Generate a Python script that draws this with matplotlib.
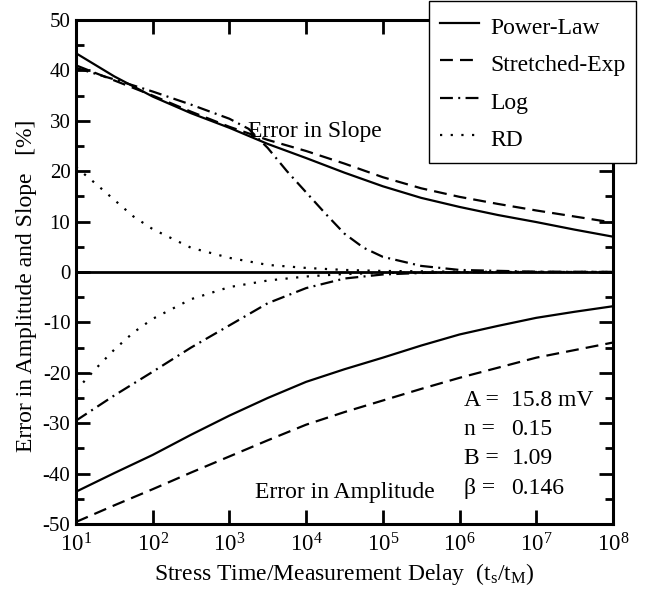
import numpy as np
import matplotlib
matplotlib.use("Agg")
import matplotlib.pyplot as plt
from matplotlib.ticker import FixedLocator, NullLocator, LogFormatterSciNotation

plt.rcParams['font.family'] = ['Liberation Serif', 'DejaVu Serif']
plt.rcParams['mathtext.fontset'] = 'custom'
plt.rcParams['mathtext.rm'] = 'Liberation Serif'
plt.rcParams['mathtext.it'] = 'Liberation Serif:italic'
plt.rcParams['axes.unicode_minus'] = False

# stress time / measurement delay (half decades)
t_half = [1e1, 3.16e1, 1e2, 3.16e2, 1e3, 3.16e3, 1e4, 3.16e4, 1e5, 3.16e5,
          1e6, 3.16e6, 1e7, 3.16e7, 1e8]
x_ticks = [1e1, 1e2, 1e3, 1e4, 1e5, 1e6, 1e7, 1e8]

# error in slope [%]
pl_slope = [43.4, 38.8, 34.8, 31.5, 28.6, 25.4, 22.6, 19.7, 17.0, 14.7, 12.9, 11.3, 9.9, 8.4, 7.0]
se_slope = [41.0, 38.0, 35.0, 31.8, 28.8, 26.2, 24.0, 21.5, 18.8, 16.6, 14.9, 13.5, 12.2, 11.0, 9.8]
t_log_slope = [1e1, 3.16e1, 1e2, 3.16e2, 1e3, 1.78e3, 3.16e3, 5.62e3, 1e4, 1.78e4,
               3.16e4, 5.62e4, 1e5, 3.16e5, 1e6, 1e7, 1e8]
log_slope = [40.5, 38.2, 35.8, 33.2, 30.4, 28.4, 24.6, 20.0, 15.8, 11.6,
             7.6, 4.8, 3.0, 1.2, 0.4, 0.05, 0.0]
t_rd = [1e1, 1.78e1, 3.16e1, 5.62e1, 1e2, 3.16e2, 1e3, 3.16e3, 1e4, 3.16e4,
        1e5, 1e6, 1e7, 1e8]
rd_slope = [20.8, 17.6, 14.3, 11.0, 8.5, 4.8, 2.8, 1.4, 0.8, 0.4, 0.2, 0.05, 0.0, 0.0]

# error in amplitude [%]
pl_amp = [-43.6, -39.9, -36.3, -32.3, -28.5, -25.0, -21.8, -19.3, -17.0, -14.6,
          -12.4, -10.7, -9.1, -7.9, -6.8]
se_amp = [-49.6, -46.3, -43.1, -39.8, -36.6, -33.4, -30.3, -27.8, -25.5, -23.2,
          -21.0, -19.0, -17.0, -15.5, -14.0]
t_log_amp = [1e1, 3.16e1, 1e2, 3.16e2, 1e3, 3.16e3, 1e4, 3.16e4, 1e5, 3.16e5,
             1e6, 1e7, 1e8]
log_amp = [-29.5, -24.5, -19.8, -15.0, -10.6, -6.2, -3.2, -1.3, -0.5, -0.2, -0.05, 0.0, 0.0]
rd_amp = [-23.5, -19.3, -15.4, -12.0, -9.3, -5.4, -3.0, -1.7, -0.9, -0.4, -0.2, -0.05, 0.0, 0.0]

params = ["A =", "n =", "B =", "\u03b2 ="]
param_vals = ["15.8 mV", "0.15", "1.09", "0.146"]

fs = 17
lw = 1.6
solid = '-'
dashed = (0, (5.8, 3.2))
dashdot = (0, (5.8, 2.4, 0.9, 2.4))
dotted = (0, (1.0, 3.8))

fig = plt.figure(figsize=(6.46, 5.92), dpi=100)
ax = fig.add_axes([0.1176, 0.1149, 0.8313, 0.8514])

ax.axhline(0, color='black', lw=2.0, zorder=1)

ax.plot(t_half, pl_slope, color='black', lw=lw, ls=solid, label='Power-Law')
ax.plot(t_half, se_slope, color='black', lw=lw, ls=dashed, label='Stretched-Exp')
ax.plot(t_log_slope, log_slope, color='black', lw=lw, ls=dashdot, label='Log')
ax.plot(t_rd, rd_slope, color='black', lw=lw, ls=dotted, label='RD')

ax.plot(t_half, pl_amp, color='black', lw=lw, ls=solid)
ax.plot(t_half, se_amp, color='black', lw=lw, ls=dashed)
ax.plot(t_log_amp, log_amp, color='black', lw=lw, ls=dashdot)
ax.plot(t_rd, rd_amp, color='black', lw=lw, ls=dotted)

ax.set_xscale('log')
ax.set_xlim(1e1, 1e8)
ax.set_ylim(-50, 50)
ax.xaxis.set_major_locator(FixedLocator(x_ticks))
ax.xaxis.set_major_formatter(LogFormatterSciNotation())
ax.xaxis.set_minor_locator(NullLocator())
ax.yaxis.set_major_locator(FixedLocator(np.arange(-50, 51, 10)))
ax.yaxis.set_minor_locator(FixedLocator(np.arange(-45, 50, 10)))

for s in ax.spines.values():
    s.set_linewidth(2.2)
ax.tick_params(which='both', direction='in', top=True, right=True, width=2.0)
ax.tick_params(axis='y', pad=4, labelsize=15)
ax.tick_params(axis='x', pad=7, labelsize=16.5)
ax.tick_params(which='major', length=10)
ax.tick_params(which='minor', length=6)

ax.set_xlabel('Stress Time/Measurement Delay  (t$_\\mathregular{s}$/t$_\\mathregular{M}$)',
              fontsize=fs, labelpad=3)
ax.set_ylabel('Error in Amplitude and Slope   [%]', fontsize=fs)
ax.yaxis.set_label_coords(-0.073, 0.472)

ax.text(0.445, 0.779, 'Error in Slope', transform=ax.transAxes, fontsize=fs,
        ha='center', va='center')
ax.text(0.501, 0.063, 'Error in Amplitude', transform=ax.transAxes, fontsize=fs,
        ha='center', va='center')

y0 = 0.245
for i, (p, v) in enumerate(zip(params, param_vals)):
    y = y0 - i * 0.058
    ax.text(0.723, y, p, transform=ax.transAxes, fontsize=fs, ha='left', va='center')
    ax.text(0.811, y, v, transform=ax.transAxes, fontsize=fs, ha='left', va='center')

leg = fig.legend(loc='upper right', bbox_to_anchor=(0.985, 0.998), fontsize=fs,
                 frameon=True, fancybox=False, handlelength=1.65, handleheight=1.45,
                 handletextpad=0.5, labelspacing=0.4, borderpad=0.45,
                 borderaxespad=0)
leg.get_frame().set_edgecolor('black')
leg.get_frame().set_linewidth(1.0)
leg.get_frame().set_alpha(1.0)
leg.set_zorder(10)

fig.savefig('out.png', dpi=100)
